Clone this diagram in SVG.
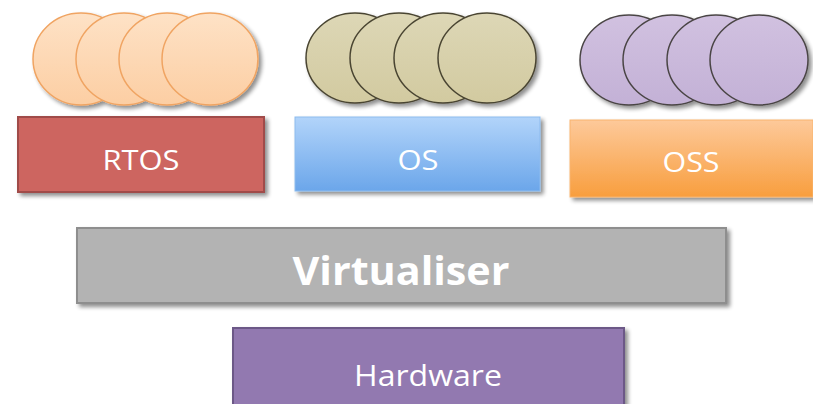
<svg xmlns="http://www.w3.org/2000/svg" width="813" height="404" viewBox="0 0 813 404">
<style>
.lbl{font-family:"Open Sans","Liberation Sans",sans-serif;fill:#fff;text-anchor:middle}
.c-or{fill:url(#gOr);stroke:#F0A462;stroke-width:1.5}
.c-ol{fill:url(#gOl);stroke:#4A4532;stroke-width:1.5}
.c-pu{fill:url(#gPu);stroke:#4A4545;stroke-width:1.5}
</style>
<defs>
<filter id="sh" x="-10%" y="-20%" width="130%" height="150%">
<feGaussianBlur in="SourceAlpha" stdDeviation="2"/>
<feOffset dx="3" dy="3" result="b"/>
<feComponentTransfer><feFuncA type="linear" slope="0.45"/></feComponentTransfer>
<feMerge><feMergeNode/><feMergeNode in="SourceGraphic"/></feMerge>
</filter>
<linearGradient id="gOr" x1="0" y1="0" x2="0" y2="1"><stop offset="0" stop-color="#FEE2C6"/><stop offset="1" stop-color="#FCCEA3"/></linearGradient>
<linearGradient id="gOl" x1="0" y1="0" x2="0" y2="1"><stop offset="0" stop-color="#DDD7B6"/><stop offset="1" stop-color="#D2CAA0"/></linearGradient>
<linearGradient id="gPu" x1="0" y1="0" x2="0" y2="1"><stop offset="0" stop-color="#D1C1E0"/><stop offset="1" stop-color="#C3B1D6"/></linearGradient>
<linearGradient id="gOS" x1="0" y1="0" x2="0" y2="1"><stop offset="0" stop-color="#B2D4FA"/><stop offset="1" stop-color="#6BA6EA"/></linearGradient>
<linearGradient id="gOSS" x1="0" y1="0" x2="0" y2="1"><stop offset="0" stop-color="#FDC99A"/><stop offset="1" stop-color="#F89E3E"/></linearGradient>
</defs>
<g id="rtos-apps" filter="url(#sh)">
<ellipse class="c-or" cx="81" cy="59" rx="48" ry="46"/>
<ellipse class="c-or" cx="124" cy="59" rx="48" ry="46"/>
<ellipse class="c-or" cx="167" cy="59" rx="48" ry="46"/>
<ellipse class="c-or" cx="210" cy="59" rx="48" ry="46"/>
</g>
<g id="os-apps" filter="url(#sh)">
<ellipse class="c-ol" cx="355" cy="58" rx="49" ry="45"/>
<ellipse class="c-ol" cx="399" cy="58" rx="49" ry="45"/>
<ellipse class="c-ol" cx="443" cy="58" rx="49" ry="45"/>
<ellipse class="c-ol" cx="487" cy="58" rx="49" ry="45"/>
</g>
<g id="oss-apps" filter="url(#sh)">
<ellipse class="c-pu" cx="629" cy="60" rx="49" ry="45"/>
<ellipse class="c-pu" cx="672" cy="60" rx="49" ry="45"/>
<ellipse class="c-pu" cx="716" cy="60" rx="49" ry="45"/>
<ellipse class="c-pu" cx="759" cy="60" rx="49" ry="45"/>
</g>
<g id="rtos">
<rect x="18" y="117" width="246" height="75" fill="#CD6560" stroke="#A04C48" stroke-width="2" filter="url(#sh)"/>
<text class="lbl" x="141" y="170" font-size="27" textLength="77" lengthAdjust="spacingAndGlyphs">RTOS</text>
</g>
<g id="os">
<rect x="295" y="117" width="245" height="74" fill="url(#gOS)" stroke="#8DBBEE" stroke-width="1" filter="url(#sh)"/>
<text class="lbl" x="418" y="170" font-size="27" textLength="41" lengthAdjust="spacingAndGlyphs">OS</text>
</g>
<g id="oss">
<rect x="570" y="120" width="243" height="77" fill="url(#gOSS)" stroke="#F9B46E" stroke-width="1" filter="url(#sh)"/>
<text class="lbl" x="691" y="172" font-size="27" textLength="57" lengthAdjust="spacingAndGlyphs">OSS</text>
</g>
<g id="virtualiser">
<rect x="77" y="228" width="649" height="75" fill="#B3B3B3" stroke="#8E8E8E" stroke-width="2" filter="url(#sh)"/>
<text class="lbl" x="401" y="285" font-size="40" font-weight="bold" textLength="217" lengthAdjust="spacingAndGlyphs">Virtualiser</text>
</g>
<g id="hardware">
<rect x="233" y="328" width="391" height="80" fill="#9279B0" stroke="#6C5987" stroke-width="2" filter="url(#sh)"/>
<text class="lbl" x="428" y="386" font-size="29" textLength="148" lengthAdjust="spacingAndGlyphs">Hardware</text>
</g>
<g id="connectors"/>
</svg>
